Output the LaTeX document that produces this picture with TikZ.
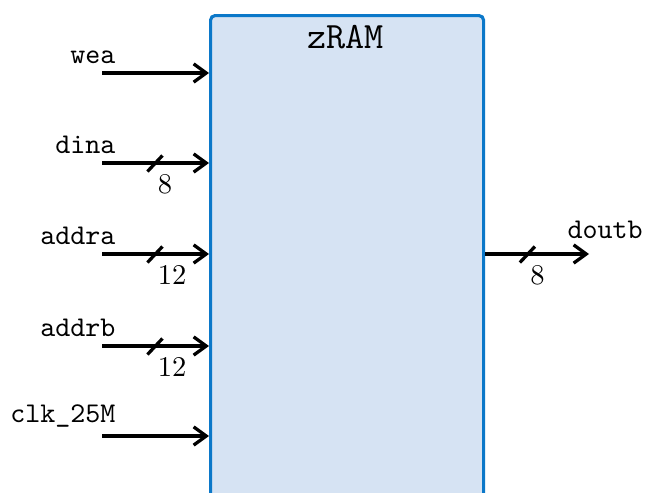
\documentclass[tikz,border=0pt]{standalone}
\usetikzlibrary{arrows.meta}
\definecolor{ramfill}{HTML}{D6E3F3}
\definecolor{ramedge}{HTML}{0B78C9}
\begin{document}
\begin{tikzpicture}[x=0.35pt,y=-0.35pt,
  sig/.style={line width=1.15pt,-{Straight Barb[length=4.4pt,width=6.4pt]}},
  busmark/.style={line width=1.15pt},
  block/.style={draw=ramedge,fill=ramfill,line width=1.1pt,rounded corners=1.6pt,
    inner sep=0pt,anchor=north west},
  portname/.style={font=\ttfamily,inner sep=0pt},
  buswidth/.style={inner sep=0pt,anchor=north west,xshift=0.8pt,yshift=-3.9pt},
  title/.style={font=\fontsize{13}{15}\selectfont\ttfamily,inner sep=0pt,anchor=base}]
\useasboundingbox (0,0) rectangle (645,492);
\clip (0,0) rectangle (645,492);

% memory block (runs past the lower edge)
\node[block,minimum width=95.55pt,minimum height=185pt] (ram) at (209,14) {};
\node[title] (ramtitle) at (345.5,49) {zRAM};

% input ports
\coordinate (wea) at (102,73);
\coordinate (dina) at (102,163);
\coordinate (addra) at (102,254);
\coordinate (addrb) at (102,346);
\coordinate (clk) at (102,436);

\draw[sig] (wea) -- (wea -| ram.west);
\draw[sig] (dina) -- coordinate[pos=0.495] (dinabus) (dina -| ram.west);
\draw[sig] (addra) -- coordinate[pos=0.495] (addrabus) (addra -| ram.west);
\draw[sig] (addrb) -- coordinate[pos=0.495] (addrbbus) (addrb -| ram.west);
\draw[sig] (clk) -- (clk -| ram.west);

\node[portname,anchor=base east] (wealbl) at (116,63) {wea};
\node[portname,anchor=base east] (dinalbl) at (116,153) {dina};
\node[portname,anchor=base east] (addralbl) at (116,244) {addra};
\node[portname,anchor=base east] (addrblbl) at (116,336) {addrb};
\node[portname,anchor=base east] (clklbl) at (116,422) {clk\_25M};

% output port
\coordinate (doutbtip) at (589,254);
\draw[sig] (doutbtip -| ram.east) -- coordinate[pos=0.407] (doutbbus) (doutbtip);
\node[portname,anchor=base west] (doutblbl) at (567,238) {doutb};

% bus width marks
\foreach \b/\w in {dinabus/8,addrabus/12,addrbbus/12,doutbbus/8}{
  \draw[busmark] ([shift={(-7.5,8.5)}]\b) -- ([shift={(7.5,-7.5)}]\b);
  \node[buswidth] (\b w) at (\b) {$\w$};
}
\end{tikzpicture}
\end{document}
